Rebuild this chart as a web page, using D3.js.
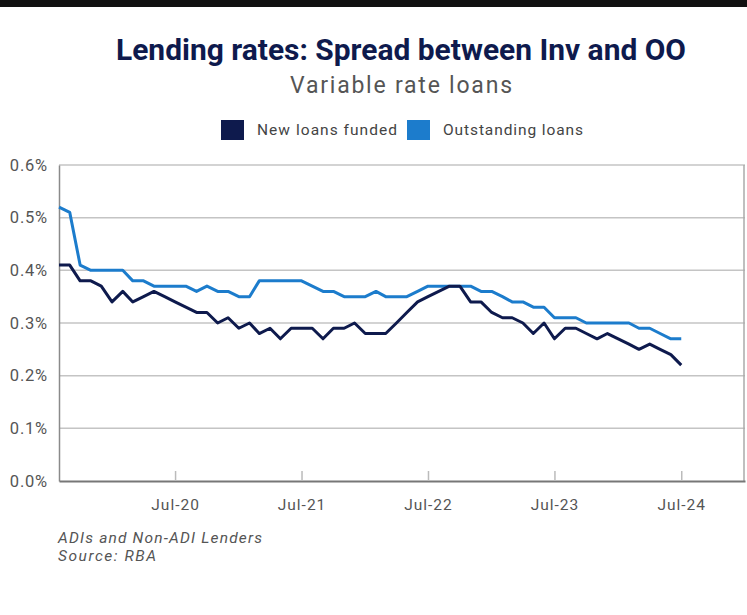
<!DOCTYPE html>
<html>
<head>
<meta charset="utf-8">
<script src="https://cdn.jsdelivr.net/npm/d3@7"></script>
<style>
  body { margin: 0; background: #fff; }
  svg { display: block; }
</style>
</head>
<body>
<div class="vis-linechart"></div>
<script>
// monthly, Aug-19 .. Jul-24
const months = d3.timeMonth.range(new Date(2019, 7, 1), new Date(2024, 7, 1));
const newLoans = [0.41, 0.41, 0.38, 0.38, 0.37, 0.34, 0.36, 0.34, 0.35, 0.36,
                  0.35, 0.34, 0.33, 0.32, 0.32, 0.30, 0.31, 0.29, 0.30, 0.28,
                  0.29, 0.27, 0.29, 0.29, 0.29, 0.27, 0.29, 0.29, 0.30, 0.28,
                  0.28, 0.28, 0.30, 0.32, 0.34, 0.35, 0.36, 0.37, 0.37, 0.34,
                  0.34, 0.32, 0.31, 0.31, 0.30, 0.28, 0.30, 0.27, 0.29, 0.29,
                  0.28, 0.27, 0.28, 0.27, 0.26, 0.25, 0.26, 0.25, 0.24, 0.22];
const outstanding = [0.52, 0.51, 0.41, 0.40, 0.40, 0.40, 0.40, 0.38, 0.38, 0.37,
                     0.37, 0.37, 0.37, 0.36, 0.37, 0.36, 0.36, 0.35, 0.35, 0.38,
                     0.38, 0.38, 0.38, 0.38, 0.37, 0.36, 0.36, 0.35, 0.35, 0.35,
                     0.36, 0.35, 0.35, 0.35, 0.36, 0.37, 0.37, 0.37, 0.37, 0.37,
                     0.36, 0.36, 0.35, 0.34, 0.34, 0.33, 0.33, 0.31, 0.31, 0.31,
                     0.30, 0.30, 0.30, 0.30, 0.30, 0.29, 0.29, 0.28, 0.27, 0.27];
const seriesNames = ['New loans funded', 'Outstanding loans'];
const seriesColors = ['#0e1a4d', '#1c7ccc'];
const yTicks = [0, 0.1, 0.2, 0.3, 0.4, 0.5, 0.6];
const xTickLabels = ['Jul-20', 'Jul-21', 'Jul-22', 'Jul-23', 'Jul-24'];

const width = 747, height = 615;
const margin = {top: 165, right: 2, bottom: 134, left: 59};
const innerW = width - margin.left - margin.right;
const innerH = height - margin.top - margin.bottom;

const svg = d3.select('.vis-linechart')
    .append('svg')
    .attr('width', width)
    .attr('height', height);

// black strip at the top of the screenshot
svg.append('rect').attr('x', 0).attr('y', 0).attr('width', width).attr('height', 7).attr('fill', '#111');

const textFont = 'Roboto, "Noto Sans", sans-serif';

svg.append('text')
    .attr('x', 401).attr('y', 60)
    .attr('text-anchor', 'middle')
    .attr('font-family', textFont)
    .attr('font-weight', 'bold')
    .attr('font-size', 29)
    .attr('fill', '#0e1a4d')
    .attr('textLength', 570)
    .attr('lengthAdjust', 'spacingAndGlyphs')
    .text('Lending rates: Spread between Inv and OO');

svg.append('text')
    .attr('x', 401).attr('y', 93)
    .attr('text-anchor', 'middle')
    .attr('font-family', textFont)
    .attr('font-size', 23)
    .attr('fill', '#555')
    .attr('textLength', 222)
    .attr('lengthAdjust', 'spacing')
    .text('Variable rate loans');

// legend
const legendX = [221, 407];
const legend = svg.append('g').selectAll('g')
    .data(seriesNames)
    .enter()
    .append('g')
    .attr('transform', (d, i) => 'translate(' + legendX[i] + ',120)');
legend.append('rect')
    .attr('width', 23).attr('height', 20)
    .attr('fill', (d, i) => seriesColors[i]);
legend.append('text')
    .attr('x', 36).attr('y', 15)
    .attr('font-family', textFont)
    .attr('font-size', 15.5)
    .attr('fill', '#444')
    .attr('textLength', 140)
    .attr('lengthAdjust', 'spacing')
    .text(d => d);

const g = svg.append('g')
    .attr('transform', 'translate(' + margin.left + ',' + margin.top + ')');

const x = d3.scaleTime()
    .domain([new Date(2019, 7, 1), new Date(2025, 0, 1)])
    .range([0, innerW]);
const y = d3.scaleLinear()
    .domain([0, 0.6])
    .range([innerH, 0]);

// gridlines
g.append('g').selectAll('line')
    .data(yTicks.filter(d => d > 0))
    .enter()
    .append('line')
    .attr('x1', 0).attr('x2', innerW)
    .attr('y1', d => y(d)).attr('y2', d => y(d))
    .attr('stroke', '#c4c4c4')
    .attr('stroke-width', 1.5);

// right border
g.append('line')
    .attr('x1', innerW - 1).attr('x2', innerW - 1)
    .attr('y1', 0).attr('y2', innerH)
    .attr('stroke', '#aaa').attr('stroke-width', 1.5);

// y axis
const yAxis = g.append('g')
    .call(d3.axisLeft(y).tickValues(yTicks).tickFormat(d => d.toFixed(1) + '%').tickSize(0).tickPadding(11));
yAxis.select('.domain').attr('stroke', '#8a8a8a').attr('stroke-width', 1.5);
yAxis.selectAll('text')
    .attr('font-family', textFont)
    .attr('font-size', 16.5)
    .attr('letter-spacing', 0.8)
    .attr('fill', '#555');

// x axis
const parseTick = d3.timeParse('%b-%y');
const xAxis = g.append('g')
    .attr('transform', 'translate(0,' + innerH + ')')
    .call(d3.axisBottom(x)
        .tickValues(xTickLabels.map(parseTick))
        .tickFormat(d3.timeFormat('%b-%y'))
        .tickSize(0)
        .tickPadding(18));
xAxis.select('.domain').attr('stroke', '#777').attr('stroke-width', 2);
xAxis.selectAll('.tick line')
    .attr('y2', -10)
    .attr('stroke', '#bbb')
    .attr('stroke-width', 1.5);
xAxis.selectAll('text')
    .attr('font-family', textFont)
    .attr('font-size', 15.5)
    .attr('letter-spacing', 1)
    .attr('fill', '#555');

// lines
const line = d3.line()
    .x((d, i) => x(months[i]))
    .y(d => y(d));

g.append('g').selectAll('path')
    .data([outstanding, newLoans])
    .enter()
    .append('path')
    .attr('d', line)
    .attr('fill', 'none')
    .attr('stroke', (d, i) => i === 0 ? seriesColors[1] : seriesColors[0])
    .attr('stroke-width', 3)
    .attr('stroke-linejoin', 'round');

// notes
const notes = ['ADIs and Non-ADI Lenders', 'Source: RBA'];
const noteLen = [204, 98];
svg.append('g').selectAll('text')
    .data(notes)
    .enter()
    .append('text')
    .attr('x', 58)
    .attr('y', (d, i) => 543 + i * 18)
    .attr('font-family', textFont)
    .attr('font-style', 'italic')
    .attr('font-size', 15.5)
    .attr('fill', '#555')
    .attr('textLength', (d, i) => noteLen[i])
    .attr('lengthAdjust', 'spacing')
    .text(d => d);
</script>
</body>
</html>
